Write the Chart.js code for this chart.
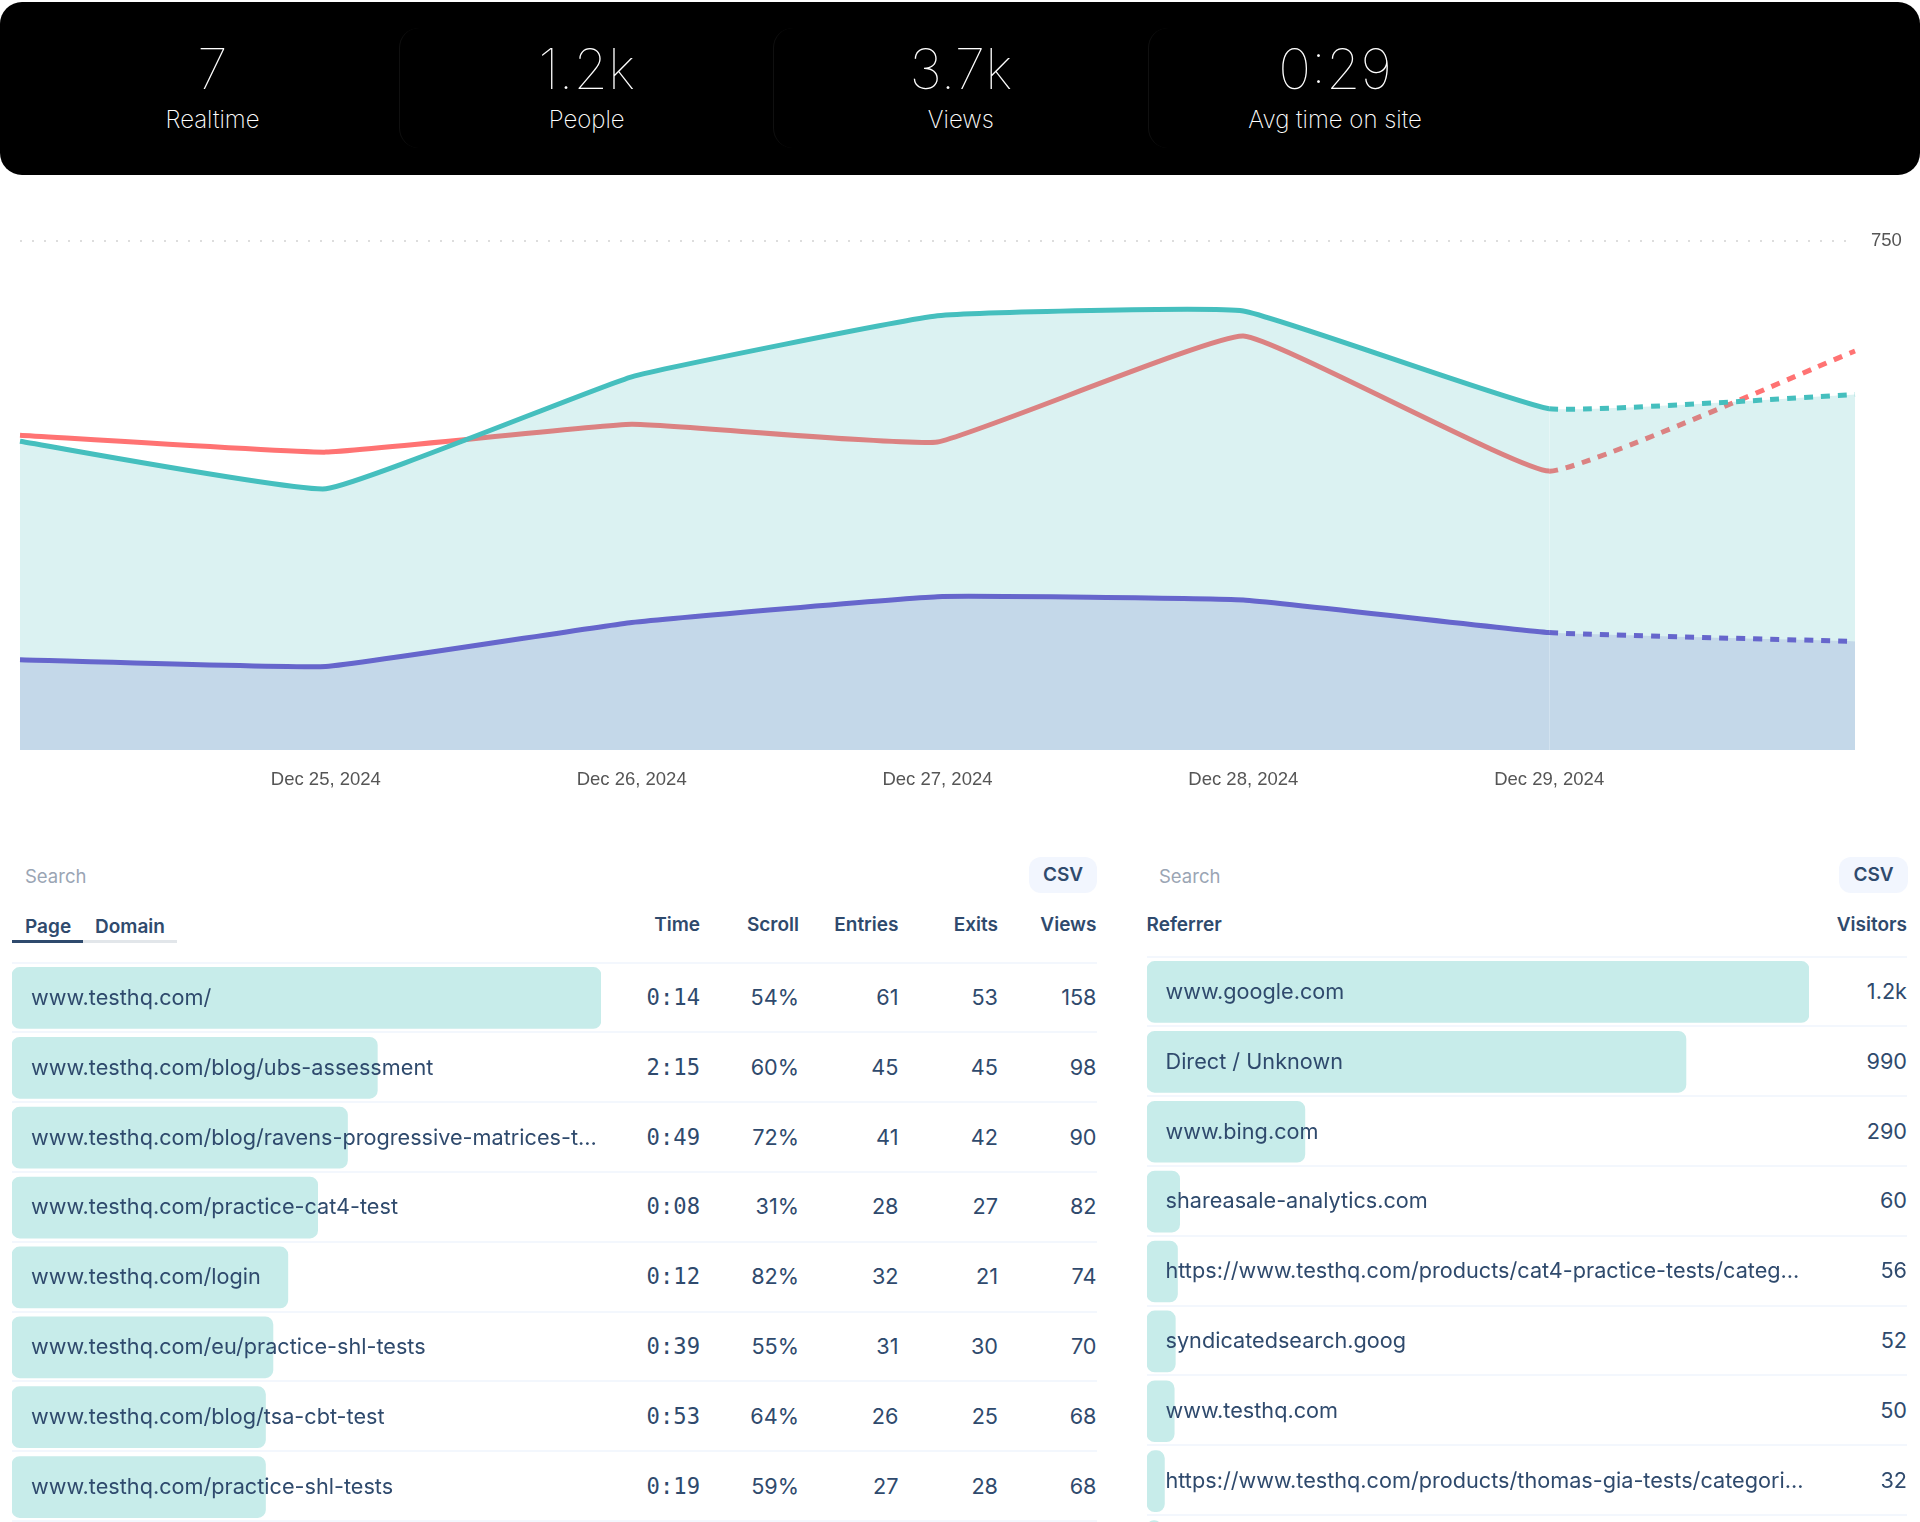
<!DOCTYPE html>
<html><head><meta charset="utf-8"><title>Analytics</title>
<script src="https://cdn.jsdelivr.net/npm/chart.js@4"></script>
<style>
html,body{margin:0;padding:0;background:#fff;}
body{width:1920px;height:1522px;overflow:hidden;position:relative;font-family:Inter,sans-serif;color:#2f4a6d;}
.abs{position:absolute;white-space:nowrap;}
#top{position:absolute;left:0;top:2px;width:1920px;height:173px;background:#000;border-radius:22px;}
.card{position:absolute;top:28px;height:120px;width:375px;border-left:1px solid #101010;border-radius:20px;box-sizing:border-box;}
.big{position:absolute;width:375px;text-align:center;top:34px;font-size:55.5px;line-height:70px;font-weight:100;color:#fff;}
.lab{position:absolute;width:375px;text-align:center;top:104px;font-size:24px;line-height:32px;font-weight:200;color:#fff;}
canvas{position:absolute;}
.sep{position:absolute;height:2px;background:#f3f7fd;}
.cell{position:absolute;white-space:nowrap;font-size:21.67px;line-height:30px;color:#2f4a6d;}
.r{text-align:right;}
.mono{font-family:"DejaVu Sans Mono",monospace;font-size:22.2px;}
.hd{font-weight:600;font-size:19px;line-height:26px;}
.search{color:#9aa5b4;font-size:18.5px;line-height:24px;}
.csv{position:absolute;background:#f2f6fe;border-radius:12px;font-weight:600;font-size:19px;text-align:center;height:36px;line-height:36px;}
</style></head><body>
<div id="top"></div>
<canvas id="main" width="1920" height="586" style="left:0;top:214px"></canvas>
<canvas id="pagesBars" width="589" height="559" style="left:12px;top:963px"></canvas>
<canvas id="refBars" width="662" height="629" style="left:1147px;top:957px"></canvas>
<script>
// Header stats
const statValues = ['7','1.2k','3.7k','0:29'];
const statLabels = ['Realtime','People','Views','Avg time on site'];
// Main chart
const days = ['Dec 24, 2024','Dec 25, 2024','Dec 26, 2024','Dec 27, 2024','Dec 28, 2024','Dec 29, 2024','Dec 30, 2024'];
const viewsSeries   = [455,385,550,640,647,503,524];
const visitorsSeries= [133,123,188,226,221,173,160];
const compareSeries = [464,439,480,454,610,411,588];
const yTicks = [750];
// Pages table
const pages = ['www.testhq.com/','www.testhq.com/blog/ubs-assessment','www.testhq.com/blog/ravens-progressive-matrices-t...','www.testhq.com/practice-cat4-test','www.testhq.com/login','www.testhq.com/eu/practice-shl-tests','www.testhq.com/blog/tsa-cbt-test','www.testhq.com/practice-shl-tests'];
const pageTime = ['0:14','2:15','0:49','0:08','0:12','0:39','0:53','0:19'];
const pageScroll = ['54%','60%','72%','31%','82%','55%','64%','59%'];
const pageEntries = [61,45,41,28,32,31,26,27];
const pageExits = [53,45,42,27,21,30,25,28];
const pageViews = [158,98,90,82,74,70,68,68];
// Referrers table
const referrers = ['www.google.com','Direct / Unknown','www.bing.com','shareasale-analytics.com','https://www.testhq.com/products/cat4-practice-tests/categ...','syndicatedsearch.goog','www.testhq.com','https://www.testhq.com/products/thomas-gia-tests/categori...',''];
const refLabels = ['1.2k','990','290','60','56','52','50','32',''];
const refVisitors = [1216,990,290,60,56,52,50,32,26];

const RED='#ff7373',TEAL='#45bfbe',PURPLE='#6666cc';
const DASH=[9,8], DASH_FROM=5, TENSION=0.1;
const dashSeg={borderDash:c=>c.p0DataIndex>=DASH_FROM?DASH:undefined};
const line=(data,color,fill,order)=>({data,borderColor:color,backgroundColor:fill||'transparent',fill:fill?'origin':false,order,borderWidth:5,pointRadius:0,tension:TENSION,segment:dashSeg});

new Chart(document.getElementById('main'),{
  type:'line',
  data:{labels:days,datasets:[
    line(compareSeries,RED,null,3),
    line(viewsSeries,TEAL,'rgba(75,192,192,0.2)',2),
    line(visitorsSeries,PURPLE,'rgba(102,110,196,0.2)',1)
  ]},
  options:{responsive:false,animation:false,
    layout:{padding:{left:20,top:0,right:0,bottom:0}},
    plugins:{legend:{display:false},tooltip:{enabled:false}},
    scales:{
      x:{offset:false,
        afterFit:s=>{s.height=50;},
        border:{display:false},
        grid:{z:1,drawTicks:false,lineWidth:1.5,color:c=>c.index===DASH_FROM?'rgba(255,255,255,0.25)':'transparent'},
        ticks:{autoSkip:false,maxRotation:0,padding:19,color:'#555',font:{family:'"Liberation Sans"',size:18.5},
          callback:function(v,i){return (i===0||i===days.length-1)?null:days[i];}}
      },
      y:{position:'right',min:0,max:yTicks[0],
        afterFit:s=>{s.width=65;},
        afterBuildTicks:s=>{s.ticks=[{value:0},...yTicks.map(value=>({value}))];},
        border:{display:false,dash:[2,10]},
        grid:{drawTicks:false,lineWidth:2,color:c=>c.tick.value===0?'transparent':'#dddddd'},
        ticks:{padding:16,color:'#555',font:{family:'"Liberation Sans"',size:18.5},callback:v=>v===0?null:v}
      }
    }
  }
});

function bars(id,labels,values,max){
  new Chart(document.getElementById(id),{
    type:'bar',
    data:{labels,datasets:[{data:values,backgroundColor:'#c7ecea',barThickness:61,borderRadius:8,borderSkipped:false}]},
    options:{indexAxis:'y',responsive:false,animation:false,
      layout:{padding:0},
      plugins:{legend:{display:false},tooltip:{enabled:false}},
      scales:{x:{display:false,min:0,max},y:{display:false}}
    }
  });
}
bars('pagesBars',pages,pageViews,pageViews[0]);
bars('refBars',referrers,refVisitors,refVisitors[0]);

// DOM text
const el=(cls,txt,st)=>{const d=document.createElement('div');d.className=cls;d.textContent=txt;Object.assign(d.style,st);document.body.appendChild(d);return d;};
statValues.forEach((v,i)=>{
  const x=25+i*374.2;
  el('big',v,{left:x+'px'});
  el('lab',statLabels[i],{left:x+'px'});
  if(i>0) el('card','',{left:(x)+'px'});
});
const PITCH=69.8;
// left table
el('abs search','Search',{left:'25px',top:'863.5px'});
el('csv','CSV',{left:'1029px',top:'857px',width:'68px'});
el('abs hd','Page',{left:'25px',top:'913.5px'});
el('abs hd','Domain',{left:'95px',top:'913.5px'});
el('abs','',{left:'83px',top:'940px',width:'94px',height:'3px',background:'#e2e6ea'});
el('abs','',{left:'12px',top:'940px',width:'71px',height:'3px',background:'#2f4a6d'});
const cols=[['Time',pageTime,700,true],['Scroll',pageScroll,799,false],['Entries',pageEntries,898.5,false],['Exits',pageExits,998,false],['Views',pageViews,1096.5,false]];
cols.forEach(([h,vals,right,mono])=>{
  el('abs hd r',h,{right:(1920-right)+'px',top:'912px'});
  vals.forEach((v,i)=>el('cell r'+(mono?' mono':''),v,{right:(1920-right)+'px',top:(982+PITCH*i)+'px'}));
});
pages.forEach((p,i)=>{
  el('sep','',{left:'12px',width:'1085px',top:(961.5+PITCH*i)+'px'});
  el('cell',p,{left:'31px',top:(982+PITCH*i)+'px'});
});
el('sep','',{left:'12px',width:'1085px',top:(961.5+PITCH*8)+'px'});
// right table
el('abs search','Search',{left:'1159px',top:'863.5px'});
el('csv','CSV',{left:'1839px',top:'857px',width:'69px'});
el('abs hd','Referrer',{left:'1146.5px',top:'912px'});
el('abs hd r','Visitors',{right:'13px',top:'912px'});
referrers.forEach((p,i)=>{
  el('sep','',{left:'1147px',width:'760px',top:(955.5+PITCH*i)+'px'});
  if(!p) return;
  el('cell',p,{left:'1165.5px',top:(976+PITCH*i)+'px'});
  el('cell r',refLabels[i],{right:'13px',top:(976+PITCH*i)+'px'});
});
</script>
</body></html>
